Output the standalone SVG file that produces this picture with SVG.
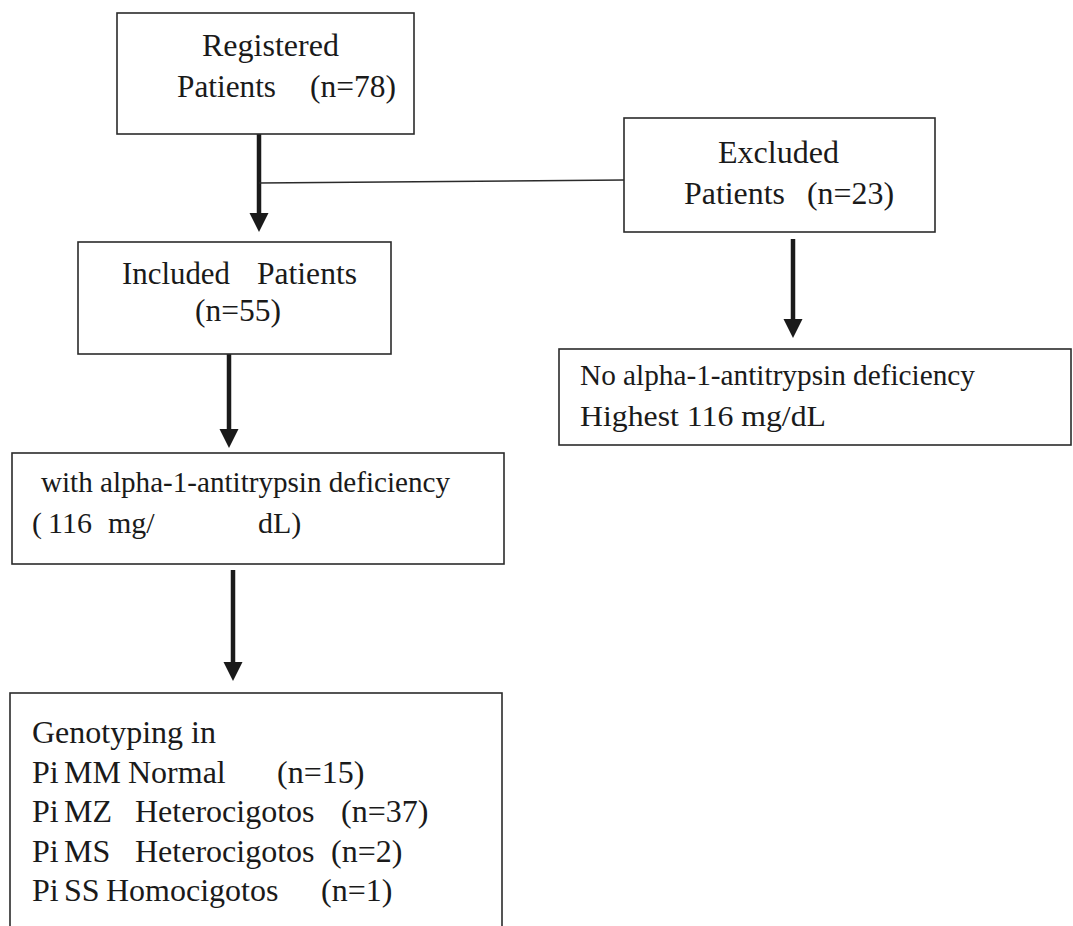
<svg xmlns="http://www.w3.org/2000/svg" xmlns:xlink="http://www.w3.org/1999/xlink" width="1073" height="926" viewBox="0 0 1073 926">
<style>
.box{fill:#fff;stroke:#2b2b2b;stroke-width:1.6}
.t{font-family:"Liberation Serif","Times New Roman",serif;fill:#1a1a1a}
.shaft{stroke:#1a1a1a;stroke-width:4.5;fill:none}
.thin{stroke:#2b2b2b;stroke-width:1.5;fill:none}
.head{fill:#1a1a1a}
</style>
<defs>
<path id="ah" d="M-9.5,0 L9.5,0 L0,19 Z"/>
</defs>
<rect width="1073" height="926" fill="#fff"/>
<g id="connectors">
<line class="shaft" x1="259" y1="134" x2="259" y2="215"/>
<use href="#ah" class="head" x="259" y="213"/>
<line class="thin" x1="259" y1="183" x2="624" y2="180"/>
<line class="shaft" x1="793" y1="239" x2="793" y2="321"/>
<use href="#ah" class="head" x="793" y="319"/>
<line class="shaft" x1="229" y1="349" x2="229" y2="431"/>
<use href="#ah" class="head" x="229" y="429"/>
<line class="shaft" x1="233" y1="570" x2="233" y2="664"/>
<use href="#ah" class="head" x="233" y="662"/>
</g>
<g id="registered">
<rect class="box" x="117" y="13" width="297" height="121"/>
<text class="t" font-size="31" x="202" y="56" textLength="137" lengthAdjust="spacingAndGlyphs">Registered</text>
<text class="t" font-size="31" x="177" y="97" textLength="99" lengthAdjust="spacingAndGlyphs">Patients</text>
<text class="t" font-size="31" x="310" y="97" textLength="86" lengthAdjust="spacingAndGlyphs">(n=78)</text>
</g>
<g id="excluded">
<rect class="box" x="624" y="118" width="311" height="114"/>
<text class="t" font-size="31" x="718" y="163" textLength="121" lengthAdjust="spacingAndGlyphs">Excluded</text>
<text class="t" font-size="31" x="684" y="204" textLength="101" lengthAdjust="spacingAndGlyphs">Patients</text>
<text class="t" font-size="31" x="807" y="204" textLength="87" lengthAdjust="spacingAndGlyphs">(n=23)</text>
</g>
<g id="included">
<rect class="box" x="78" y="242" width="313" height="112"/>
<text class="t" font-size="31" x="122" y="284" textLength="108" lengthAdjust="spacingAndGlyphs">Included</text>
<text class="t" font-size="31" x="257" y="284" textLength="100" lengthAdjust="spacingAndGlyphs">Patients</text>
<text class="t" font-size="31" x="195" y="321" textLength="86" lengthAdjust="spacingAndGlyphs">(n=55)</text>
</g>
<g id="no-deficiency">
<rect class="box" x="559" y="349" width="512" height="96"/>
<text class="t" font-size="29" x="580" y="385" textLength="395" lengthAdjust="spacingAndGlyphs">No alpha-1-antitrypsin deficiency</text>
<text class="t" font-size="29" x="580" y="426" textLength="246" lengthAdjust="spacingAndGlyphs">Highest 116 mg/dL</text>
</g>
<g id="with-deficiency">
<rect class="box" x="12" y="453" width="492" height="111"/>
<text class="t" font-size="29" x="41" y="492" textLength="409" lengthAdjust="spacingAndGlyphs">with alpha-1-antitrypsin deficiency</text>
<text class="t" font-size="30" x="32" y="533">(</text>
<text class="t" font-size="30" x="48" y="533">116</text>
<text class="t" font-size="30" x="108" y="533">mg/</text>
<text class="t" font-size="30" x="258" y="533">dL)</text>
</g>
<g id="genotyping">
<rect class="box" x="10" y="693" width="492" height="260"/>
<text class="t" font-size="32" x="32" y="743">Genotyping in</text>
<text class="t" font-size="32" x="32" y="783">Pi</text>
<text class="t" font-size="32" x="64" y="783">MM</text>
<text class="t" font-size="32" x="128" y="783">Normal</text>
<text class="t" font-size="32" x="277" y="783">(n=15)</text>
<text class="t" font-size="32" x="32" y="822">Pi</text>
<text class="t" font-size="32" x="64" y="822">MZ</text>
<text class="t" font-size="32" x="135" y="822">Heterocigotos</text>
<text class="t" font-size="32" x="341" y="822">(n=37)</text>
<text class="t" font-size="32" x="32" y="862">Pi</text>
<text class="t" font-size="32" x="64" y="862">MS</text>
<text class="t" font-size="32" x="135" y="862">Heterocigotos</text>
<text class="t" font-size="32" x="331" y="862">(n=2)</text>
<text class="t" font-size="32" x="32" y="901">Pi</text>
<text class="t" font-size="32" x="64" y="901">SS</text>
<text class="t" font-size="32" x="106" y="901">Homocigotos</text>
<text class="t" font-size="32" x="321" y="901">(n=1)</text>
</g>
</svg>
